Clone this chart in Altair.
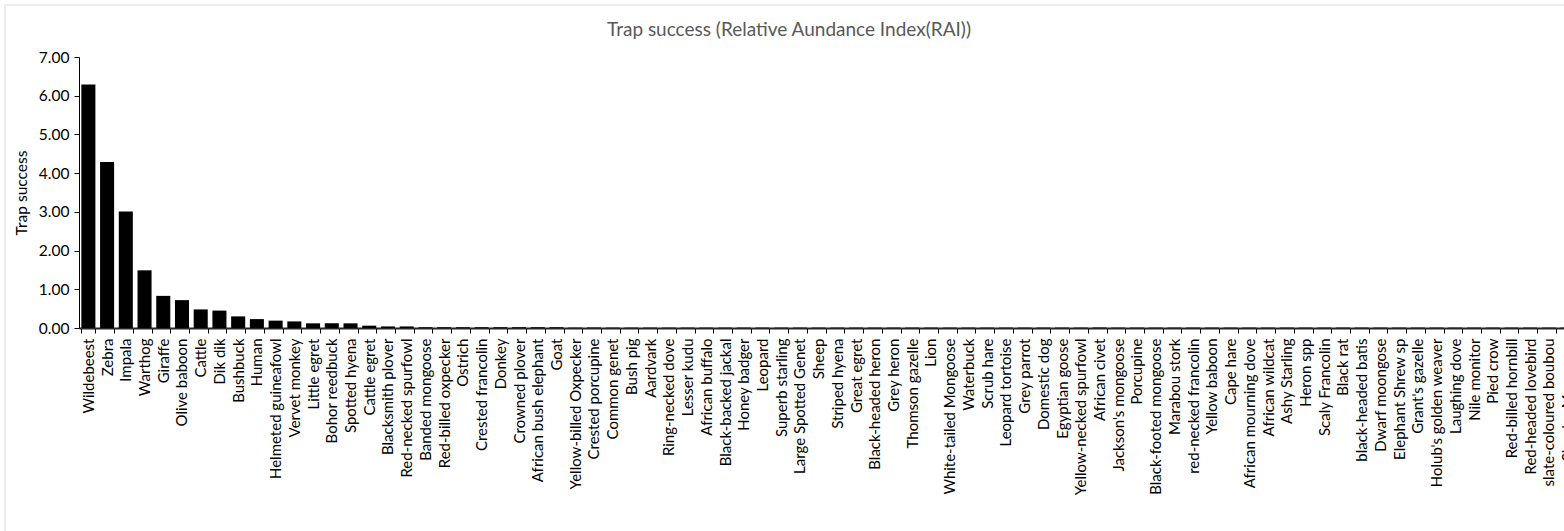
import altair as alt
import pandas as pd

species = [
    "Wildebeest", "Zebra", "Impala", "Warthog", "Giraffe", "Olive baboon", "Cattle", "Dik dik",
    "Bushbuck", "Human", "Helmeted guineafowl", "Vervet monkey", "Little egret", "Bohor reedbuck",
    "Spotted hyena", "Cattle egret", "Blacksmith plover", "Red-necked spurfowl", "Banded mongoose",
    "Red-billed oxpecker", "Ostrich", "Crested francolin", "Donkey", "Crowned plover",
    "African bush elephant", "Goat", "Yellow-billed Oxpecker", "Crested porcupine", "Common genet",
    "Bush pig", "Aardvark", "Ring-necked dove", "Lesser kudu", "African buffalo",
    "Black-backed jackal", "Honey badger", "Leopard", "Superb starling", "Large Spotted Genet",
    "Sheep", "Striped hyena", "Great egret", "Black-headed heron", "Grey heron", "Thomson gazelle",
    "Lion", "White-tailed Mongoose", "Waterbuck", "Scrub hare", "Leopard tortoise", "Grey parrot",
    "Domestic dog", "Egyptian goose", "Yellow-necked spurfowl", "African civet",
    "Jackson's mongoose", "Porcupine", "Black-footed mongoose", "Marabou stork",
    "red-necked francolin", "Yellow baboon", "Cape hare", "African mourning dove",
    "African wildcat", "Ashy Starling", "Heron spp", "Scaly Francolin", "Black rat",
    "black-headed batis", "Dwarf moongose", "Elephant Shrew sp", "Grant's gazelle",
    "Holub's golden weaver", "Laughing dove", "Nile monitor", "Pied crow", "Red-billed hornbill",
    "Red-headed lovebird", "slate-coloured boubou", "Slender Mongoose",
]

rai = [
    6.29, 4.29, 3.01, 1.49, 0.83, 0.72, 0.48, 0.45,
    0.30, 0.23, 0.19, 0.17, 0.12, 0.12,
    0.12, 0.06, 0.04, 0.04, 0.02,
    0.02, 0.02, 0.02, 0.02, 0.02,
    0.02, 0.02, 0.01, 0.01, 0.01,
    0.01, 0.01, 0.01, 0.01, 0.01,
    0.01, 0.01, 0.01, 0.01, 0.01,
    0.01, 0.01, 0.01, 0.01, 0.01, 0.01,
    0.01, 0.01, 0.01, 0.01, 0.01, 0.01,
    0.01, 0.01, 0.01, 0.01,
    0.01, 0.01, 0.01, 0.01,
    0.01, 0.01, 0.01, 0.01,
    0.01, 0.01, 0.01, 0.01, 0.01,
    0.01, 0.01, 0.01, 0.01,
    0.01, 0.01, 0.01, 0.01, 0.01,
    0.01, 0.01, 0.01,
]

y_ticks = [0, 1, 2, 3, 4, 5, 6, 7]

title_text = ["Trap success (Relative Aundance Index(RAI))"]

df = pd.DataFrame({"species": species, "rai": rai})

FONT = "Lato"

bars = alt.Chart(df).mark_bar(color="black").encode(
    x=alt.X(
        "species:N",
        sort=None,
        scale=alt.Scale(range=[0, 1498], paddingInner=0.25, paddingOuter=0.125),
        axis=alt.Axis(
            title=None,
            labelAngle=270,
            labelFontSize=15,
            labelFont=FONT,
            labelColor="black",
            labelOverlap=False,
            labelPadding=5,
            tickBand="extent",
            tickSize=5,
            tickColor="black",
            domainColor="#262626",
            domainWidth=2,
        ),
    ),
    y=alt.Y(
        "rai:Q",
        scale=alt.Scale(domain=[0, 7], nice=False),
        axis=alt.Axis(
            title="Trap success",
            titleFont=FONT,
            titleFontSize=15.5,
            titleFontWeight="normal",
            titleColor="black",
            titlePadding=9,
            values=y_ticks,
            format=".2f",
            labelFont=FONT,
            labelFontSize=15.5,
            labelColor="black",
            labelPadding=5,
            tickSize=5,
            tickColor="black",
            domainColor="black",
            grid=False,
        ),
    ),
)

frame = alt.Chart(pd.DataFrame({"a": [0]})).mark_rect(
    fillOpacity=0, stroke="#d9d9d9", strokeWidth=1
).encode(
    x=alt.value(-74), x2=alt.value(2000), y=alt.value(-52), y2=alt.value(1000)
)

title = alt.Chart(pd.DataFrame({"t": title_text})).mark_text(
    font=FONT, fontSize=19, color="#595959", align="center", baseline="middle"
).encode(
    text="t:N", x=alt.value(710), y=alt.value(-27)
)

chart = alt.layer(frame, bars, title).properties(
    width=1485,
    height=271,
    autosize=alt.AutoSizeParams(type="none"),
    padding={"left": 79, "top": 57, "right": 0, "bottom": 203},
).configure_view(stroke="transparent")

chart.save("out.html", embed_options={"renderer": "svg", "actions": False})
